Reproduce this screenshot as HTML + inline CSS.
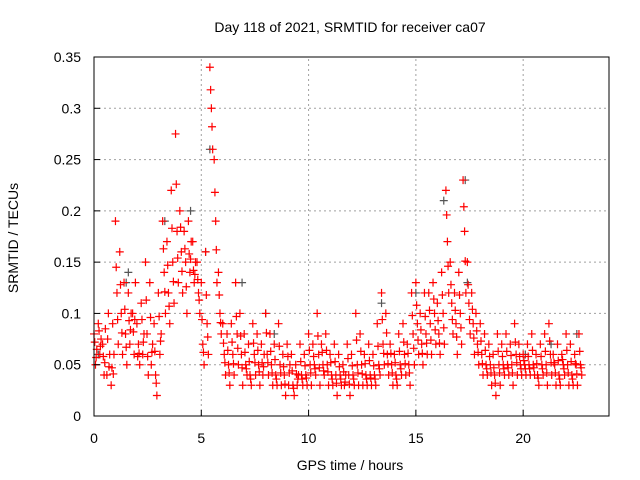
<!DOCTYPE html>
<html><head><meta charset="utf-8"><style>
body{margin:0;background:#fff;}
svg{display:block;font-family:"Liberation Sans",sans-serif;}
</style></head><body>
<svg id="chart" width="640" height="480">
<text x="350" y="32" font-size="14" text-anchor="middle">Day 118 of 2021, SRMTID for receiver ca07</text>
<text x="350" y="470" font-size="14" text-anchor="middle">GPS time / hours</text>
<text transform="translate(18,238) rotate(-90)" font-size="14" text-anchor="middle">SRMTID / TECUs</text>
<g id="grid"></g><g id="marks"></g><g id="axes"></g>
</svg>
<script>
const xTicks=[0,5,10,15,20];
const yTicks=[0,0.05,0.1,0.15,0.2,0.25,0.3,0.35];
const yTickLabels=["0","0.05","0.1","0.15","0.2","0.25","0.3","0.35"];
const times=[0,0.2,0.4,0.6,0.8,1.0,1.2,1.4,1.6,1.8,2.0,2.2,2.4,2.6,2.8,3.0,3.2,3.4,3.6,3.8,4.0,4.2,4.4,4.6,4.8,5.0,5.2,5.4,5.6,5.8,6.0,6.2,6.4,6.6,6.8,7.0,7.2,7.4,7.6,7.8,8.0,8.2,8.4,8.6,8.8,9.0,9.2,9.4,9.6,9.8,10.0,10.2,10.4,10.6,10.8,11.0,11.2,11.4,11.6,11.8,12.0,12.2,12.4,12.6,12.8,13.0,13.2,13.4,13.6,13.8,14.0,14.2,14.4,14.6,14.8,15.0,15.2,15.4,15.6,15.8,16.0,16.2,16.4,16.6,16.8,17.0,17.2,17.4,17.6,17.8,18.0,18.2,18.4,18.6,18.8,19.0,19.2,19.4,19.6,19.8,20.0,20.2,20.4,20.6,20.8,21.0,21.2,21.4,21.6,21.8,22.0,22.2,22.4,22.6];
const seriesA=[.08,.09,.07,.04,.03,.19,.16,.13,.12,.10,.09,.11,.15,.13,.09,.12,.19,.17,.22,.275,.20,.18,.19,.17,.15,.13,.16,.34,.25,.14,.09,.08,.09,.13,.10,.08,.07,.09,.08,.07,.10,.08,.07,.09,.06,.07,.06,.05,.07,.06,.08,.07,.10,.07,.08,.06,.07,.06,.05,.07,.06,.10,.08,.06,.07,.06,.09,.12,.10,.07,.06,.08,.09,.07,.12,.13,.10,.12,.12,.13,.11,.14,.22,.15,.12,.14,.23,.15,.12,.10,.09,.08,.07,.06,.08,.07,.08,.07,.09,.07,.06,.07,.08,.06,.07,.08,.09,.06,.07,.06,.08,.07,.06,.08];
const seriesB=[.05,.06,.04,.10,.09,.12,.10,.08,.07,.06,.07,.06,.08,.05,.04,.06,.14,.12,.15,.18,.16,.15,.14,.13,.12,.07,.09,.30,.19,.10,.06,.05,.06,.08,.06,.05,.04,.06,.05,.04,.06,.05,.04,.05,.04,.03,.03,.03,.04,.04,.05,.05,.06,.05,.05,.04,.04,.04,.03,.04,.04,.05,.05,.04,.04,.04,.05,.07,.06,.05,.04,.05,.06,.05,.08,.09,.07,.08,.09,.10,.08,.10,.17,.11,.09,.10,.18,.11,.09,.07,.06,.05,.05,.04,.05,.05,.05,.05,.06,.05,.05,.05,.05,.04,.05,.05,.06,.05,.04,.05,.05,.04,.05,.05];
const seriesC=[.065,.075,.085,.06,.06,.07,.06,.05,.10,.13,.05,.08,.04,.07,.02,.08,.10,.09,.11,.13,.12,.10,.17,.15,.10,.05,.06,.26,.13,.08,.04,.03,.04,.05,.03,.04,.03,.04,.03,.06,.04,.03,.03,.03,.02,.05,.02,.04,.03,.03,.03,.04,.03,.04,.03,.03,.02,.03,.04,.02,.03,.03,.03,.03,.03,.03,.04,.05,.04,.03,.03,.04,.04,.03,.05,.06,.05,.06,.06,.07,.06,.07,.12,.08,.06,.07,.12,.08,.06,.05,.04,.04,.03,.02,.03,.04,.04,.03,.04,.04,.04,.04,.04,.03,.04,.03,.04,.03,.03,.04,.03,.03,.03,.04];
const seriesD=[.072,.083,.058,.075,.047,.145,.128,.104,.093,.082,.058,.094,.113,.096,.063,.097,.163,.147,.183,.226,.184,.163,.158,.142,.133,.094,.118,.318,.218,.118,.071,.064,.072,.097,.078,.062,.053,.071,.064,.052,.081,.063,.055,.068,.048,.058,.044,.041,.053,.049,.064,.058,.078,.062,.064,.052,.053,.048,.043,.056,.049,.074,.063,.051,.054,.049,.068,.094,.081,.061,.052,.063,.072,.061,.098,.108,.084,.097,.103,.114,.093,.118,.196,.128,.103,.118,.204,.128,.104,.083,.073,.064,.058,.047,.063,.058,.063,.059,.072,.058,.054,.058,.064,.051,.058,.063,.073,.052,.054,.055,.064,.053,.051,.063];
const seriesE=[.057,.068,.052,.048,.041,.094,.081,.067,.084,.094,.061,.072,.058,.062,.032,.073,.121,.107,.131,.154,.141,.126,.153,.138,.113,.062,.077,.282,.162,.091,.052,.042,.051,.066,.047,.046,.036,.052,.043,.048,.052,.042,.036,.042,.031,.042,.027,.036,.036,.037,.042,.046,.047,.044,.043,.036,.032,.036,.033,.031,.036,.042,.041,.036,.037,.036,.046,.061,.051,.042,.036,.046,.051,.042,.066,.074,.061,.071,.074,.084,.071,.086,.146,.094,.077,.086,.151,.094,.076,.062,.051,.046,.042,.032,.042,.046,.047,.042,.052,.046,.046,.046,.047,.037,.046,.042,.052,.042,.036,.046,.042,.036,.041,.047];
const grayTimes=[0.2,1.6,1.5,3.3,4.5,5.4,5.2,6.9,8.0,8.4,13.4,15.0,16.3,17.3,17.4,20.1,21.3,22.5];
const grayValues=[0.06,0.14,0.13,0.19,0.20,0.26,0.16,0.13,0.10,0.08,0.11,0.12,0.21,0.23,0.13,0.06,0.07,0.08];
const offsets=[0,0.07,0.13,0.035,0.1];
const X0=94,X1=609,Y0=416,Y1=57;
const xs=v=>X0+(v/24)*(X1-X0);
const ys=v=>Y0-(v/0.35)*(Y0-Y1);
const NS="http://www.w3.org/2000/svg";
function mk(tag,attrs,parent){const e=document.createElementNS(NS,tag);for(const k in attrs)e.setAttribute(k,attrs[k]);parent.appendChild(e);return e;}
const grid=document.getElementById('grid'),axes=document.getElementById('axes'),marks=document.getElementById('marks');
xTicks.forEach(t=>{
 if(t>0){const g=mk('line',{x1:xs(t),x2:xs(t),y1:Y0,y2:Y1,stroke:'#a0a0a0','stroke-dasharray':'2,3'},grid);
 
 }
 const tk=mk('line',{x1:xs(t),x2:xs(t),y1:Y0,y2:Y0-6,stroke:'#000'},axes);
 
 
 const l=mk('text',{x:xs(t),y:Y0+27,'font-size':14,'text-anchor':'middle'},axes);l.textContent=t;
 
 
});
yTicks.forEach((t,i)=>{
 if(t>0&&t<0.35){const g=mk('line',{x1:X0,x2:X1,y1:ys(t),y2:ys(t),stroke:'#a0a0a0','stroke-dasharray':'2,3'},grid);
 
 }
 const tk=mk('line',{x1:X0,x2:X0+6,y1:ys(t),y2:ys(t),stroke:'#000'},axes);
 
 
 const l=mk('text',{x:X0-13,y:ys(t)+5,'font-size':14,'text-anchor':'end'},axes);l.textContent=yTickLabels[i];
 
 
});
const fr=mk('rect',{x:X0,y:Y1,width:X1-X0,height:Y0-Y1,fill:'none',stroke:'#000','stroke-width':1},axes);


function cross(t,v,color,name){
 const x=xs(t),y=ys(v);
 const p=mk('path',{d:`M${x-4},${y}h8M${x},${y-4}v8`,stroke:color,'stroke-width':1.2,fill:'none'},marks);
 
 
}
grayTimes.forEach((t,i)=>cross(t,grayValues[i],'#555','gray-point'));
[seriesA,seriesB,seriesC,seriesD,seriesE].forEach((s,k)=>{
 s.forEach((v,i)=>cross(times[i]+offsets[k],v,'#ff0000','srmtid-point'));
});
</script>
</body></html>
